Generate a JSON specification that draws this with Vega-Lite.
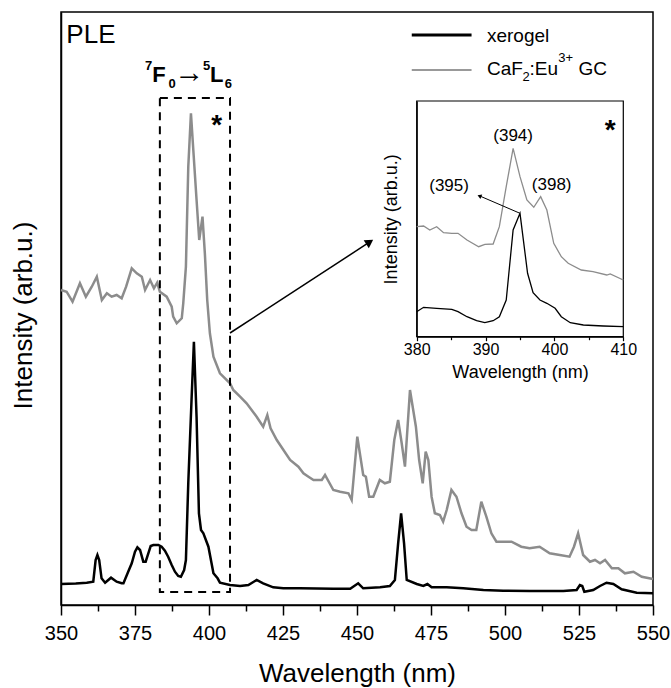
{
  "$schema": "https://vega.github.io/schema/vega-lite/v6.json",
  "width": 592,
  "height": 593,
  "autosize": {"type": "none"},
  "padding": {"left": 61, "top": 12, "right": 18, "bottom": 83},
  "config": {
    "font": "Liberation Sans",
    "view": {"stroke": "#000000", "strokeWidth": 1.5},
    "axis": {"grid": false, "domainColor": "#000000", "tickColor": "#000000", "labelColor": "#000000", "titleColor": "#000000", "titleFontWeight": "normal", "domainWidth": 1.5, "tickWidth": 1.5, "labelFont": "Liberation Sans", "titleFont": "Liberation Sans"}
  },
  "datasets": {
    "main": [
      {"sample": "xerogel", "wl": 350, "intensity": 21},
      {"sample": "xerogel", "wl": 355, "intensity": 21.5},
      {"sample": "xerogel", "wl": 358.7, "intensity": 22.3},
      {"sample": "xerogel", "wl": 360.9, "intensity": 23.3},
      {"sample": "xerogel", "wl": 361.7, "intensity": 45},
      {"sample": "xerogel", "wl": 362.3, "intensity": 50},
      {"sample": "xerogel", "wl": 362.9, "intensity": 45},
      {"sample": "xerogel", "wl": 363.7, "intensity": 26.7},
      {"sample": "xerogel", "wl": 364.9, "intensity": 22.3},
      {"sample": "xerogel", "wl": 366.9, "intensity": 27.3},
      {"sample": "xerogel", "wl": 368.8, "intensity": 23.3},
      {"sample": "xerogel", "wl": 370.5, "intensity": 21.7},
      {"sample": "xerogel", "wl": 371.1, "intensity": 21.7},
      {"sample": "xerogel", "wl": 372.7, "intensity": 33.3},
      {"sample": "xerogel", "wl": 373.9, "intensity": 41.7},
      {"sample": "xerogel", "wl": 375.0, "intensity": 53.3},
      {"sample": "xerogel", "wl": 375.8, "intensity": 57.7},
      {"sample": "xerogel", "wl": 376.7, "intensity": 55},
      {"sample": "xerogel", "wl": 377.8, "intensity": 43.3},
      {"sample": "xerogel", "wl": 378.6, "intensity": 43.3},
      {"sample": "xerogel", "wl": 379.5, "intensity": 51.7},
      {"sample": "xerogel", "wl": 380.3, "intensity": 59},
      {"sample": "xerogel", "wl": 381.2, "intensity": 60},
      {"sample": "xerogel", "wl": 382.9, "intensity": 60},
      {"sample": "xerogel", "wl": 384.0, "intensity": 58.3},
      {"sample": "xerogel", "wl": 385.1, "intensity": 54.3},
      {"sample": "xerogel", "wl": 386.2, "intensity": 48.3},
      {"sample": "xerogel", "wl": 387.4, "intensity": 40},
      {"sample": "xerogel", "wl": 388.5, "intensity": 33.3},
      {"sample": "xerogel", "wl": 389.6, "intensity": 29},
      {"sample": "xerogel", "wl": 390.5, "intensity": 28.3},
      {"sample": "xerogel", "wl": 391.6, "intensity": 35},
      {"sample": "xerogel", "wl": 392.2, "intensity": 45},
      {"sample": "xerogel", "wl": 393.0, "intensity": 122},
      {"sample": "xerogel", "wl": 394.1, "intensity": 205},
      {"sample": "xerogel", "wl": 394.9, "intensity": 263.3},
      {"sample": "xerogel", "wl": 395.8, "intensity": 188},
      {"sample": "xerogel", "wl": 396.6, "intensity": 91.7},
      {"sample": "xerogel", "wl": 397.3, "intensity": 75},
      {"sample": "xerogel", "wl": 398.1, "intensity": 71.7},
      {"sample": "xerogel", "wl": 399.8, "intensity": 58.3},
      {"sample": "xerogel", "wl": 401.5, "intensity": 31.7},
      {"sample": "xerogel", "wl": 402.9, "intensity": 26.7},
      {"sample": "xerogel", "wl": 403.7, "intensity": 22.3},
      {"sample": "xerogel", "wl": 407.1, "intensity": 20},
      {"sample": "xerogel", "wl": 410.5, "intensity": 19},
      {"sample": "xerogel", "wl": 413.3, "intensity": 20},
      {"sample": "xerogel", "wl": 416.1, "intensity": 25},
      {"sample": "xerogel", "wl": 418.3, "intensity": 21.7},
      {"sample": "xerogel", "wl": 421.7, "intensity": 17.7},
      {"sample": "xerogel", "wl": 425.1, "intensity": 16.7},
      {"sample": "xerogel", "wl": 430.7, "intensity": 16.7},
      {"sample": "xerogel", "wl": 442, "intensity": 16.3},
      {"sample": "xerogel", "wl": 447.7, "intensity": 16.3},
      {"sample": "xerogel", "wl": 450.4, "intensity": 21.7},
      {"sample": "xerogel", "wl": 452.1, "intensity": 16.7},
      {"sample": "xerogel", "wl": 457.8, "intensity": 17.7},
      {"sample": "xerogel", "wl": 461.1, "intensity": 19},
      {"sample": "xerogel", "wl": 462.8, "intensity": 25},
      {"sample": "xerogel", "wl": 463.9, "intensity": 61.7},
      {"sample": "xerogel", "wl": 464.9, "intensity": 91.7},
      {"sample": "xerogel", "wl": 465.9, "intensity": 61.7},
      {"sample": "xerogel", "wl": 466.8, "intensity": 25},
      {"sample": "xerogel", "wl": 470.2, "intensity": 21},
      {"sample": "xerogel", "wl": 472.4, "intensity": 19},
      {"sample": "xerogel", "wl": 473.8, "intensity": 21},
      {"sample": "xerogel", "wl": 475.2, "intensity": 17.7},
      {"sample": "xerogel", "wl": 480.3, "intensity": 17.7},
      {"sample": "xerogel", "wl": 485.9, "intensity": 16.7},
      {"sample": "xerogel", "wl": 492.7, "intensity": 15},
      {"sample": "xerogel", "wl": 499.4, "intensity": 14.3},
      {"sample": "xerogel", "wl": 508.4, "intensity": 14},
      {"sample": "xerogel", "wl": 519.7, "intensity": 14},
      {"sample": "xerogel", "wl": 524.2, "intensity": 15},
      {"sample": "xerogel", "wl": 525.3, "intensity": 20},
      {"sample": "xerogel", "wl": 526.1, "intensity": 19},
      {"sample": "xerogel", "wl": 526.8, "intensity": 13.3},
      {"sample": "xerogel", "wl": 529.8, "intensity": 15},
      {"sample": "xerogel", "wl": 532.1, "intensity": 19},
      {"sample": "xerogel", "wl": 534.3, "intensity": 22.3},
      {"sample": "xerogel", "wl": 536.6, "intensity": 21},
      {"sample": "xerogel", "wl": 539.4, "intensity": 15.7},
      {"sample": "xerogel", "wl": 544.5, "intensity": 12.3},
      {"sample": "xerogel", "wl": 550, "intensity": 11.7},
      {"sample": "CaF2:Eu3+ GC", "wl": 350, "intensity": 315},
      {"sample": "CaF2:Eu3+ GC", "wl": 351.9, "intensity": 313.3},
      {"sample": "CaF2:Eu3+ GC", "wl": 353.9, "intensity": 303.3},
      {"sample": "CaF2:Eu3+ GC", "wl": 356.4, "intensity": 321.7},
      {"sample": "CaF2:Eu3+ GC", "wl": 358.4, "intensity": 308.3},
      {"sample": "CaF2:Eu3+ GC", "wl": 360.4, "intensity": 318.3},
      {"sample": "CaF2:Eu3+ GC", "wl": 362.1, "intensity": 328.3},
      {"sample": "CaF2:Eu3+ GC", "wl": 363.8, "intensity": 305},
      {"sample": "CaF2:Eu3+ GC", "wl": 365.5, "intensity": 311.7},
      {"sample": "CaF2:Eu3+ GC", "wl": 367.1, "intensity": 308.3},
      {"sample": "CaF2:Eu3+ GC", "wl": 368.8, "intensity": 310},
      {"sample": "CaF2:Eu3+ GC", "wl": 370.5, "intensity": 306.7},
      {"sample": "CaF2:Eu3+ GC", "wl": 372, "intensity": 318.3},
      {"sample": "CaF2:Eu3+ GC", "wl": 373.9, "intensity": 336.7},
      {"sample": "CaF2:Eu3+ GC", "wl": 375.6, "intensity": 331.7},
      {"sample": "CaF2:Eu3+ GC", "wl": 377.3, "intensity": 328.3},
      {"sample": "CaF2:Eu3+ GC", "wl": 378.4, "intensity": 315},
      {"sample": "CaF2:Eu3+ GC", "wl": 380.1, "intensity": 325},
      {"sample": "CaF2:Eu3+ GC", "wl": 381.4, "intensity": 316.7},
      {"sample": "CaF2:Eu3+ GC", "wl": 382.5, "intensity": 322.3},
      {"sample": "CaF2:Eu3+ GC", "wl": 383.4, "intensity": 313.3},
      {"sample": "CaF2:Eu3+ GC", "wl": 385.7, "intensity": 308.3},
      {"sample": "CaF2:Eu3+ GC", "wl": 387.4, "intensity": 298.3},
      {"sample": "CaF2:Eu3+ GC", "wl": 387.9, "intensity": 288.3},
      {"sample": "CaF2:Eu3+ GC", "wl": 389.1, "intensity": 281.7},
      {"sample": "CaF2:Eu3+ GC", "wl": 390.8, "intensity": 286.7},
      {"sample": "CaF2:Eu3+ GC", "wl": 391.3, "intensity": 301.7},
      {"sample": "CaF2:Eu3+ GC", "wl": 392.2, "intensity": 338.3},
      {"sample": "CaF2:Eu3+ GC", "wl": 393, "intensity": 438.3},
      {"sample": "CaF2:Eu3+ GC", "wl": 393.9, "intensity": 491.7},
      {"sample": "CaF2:Eu3+ GC", "wl": 394.7, "intensity": 455},
      {"sample": "CaF2:Eu3+ GC", "wl": 395.8, "intensity": 405},
      {"sample": "CaF2:Eu3+ GC", "wl": 396.7, "intensity": 365},
      {"sample": "CaF2:Eu3+ GC", "wl": 397.8, "intensity": 388.3},
      {"sample": "CaF2:Eu3+ GC", "wl": 398.6, "intensity": 351.7},
      {"sample": "CaF2:Eu3+ GC", "wl": 399.4, "intensity": 305},
      {"sample": "CaF2:Eu3+ GC", "wl": 400.3, "intensity": 271.7},
      {"sample": "CaF2:Eu3+ GC", "wl": 401.5, "intensity": 248.3},
      {"sample": "CaF2:Eu3+ GC", "wl": 403.7, "intensity": 231.7},
      {"sample": "CaF2:Eu3+ GC", "wl": 407.1, "intensity": 221.7},
      {"sample": "CaF2:Eu3+ GC", "wl": 408.2, "intensity": 215},
      {"sample": "CaF2:Eu3+ GC", "wl": 410.5, "intensity": 208.3},
      {"sample": "CaF2:Eu3+ GC", "wl": 412.7, "intensity": 201.7},
      {"sample": "CaF2:Eu3+ GC", "wl": 416.1, "intensity": 188.3},
      {"sample": "CaF2:Eu3+ GC", "wl": 418.3, "intensity": 178.3},
      {"sample": "CaF2:Eu3+ GC", "wl": 419.7, "intensity": 190},
      {"sample": "CaF2:Eu3+ GC", "wl": 420.8, "intensity": 176.7},
      {"sample": "CaF2:Eu3+ GC", "wl": 422.9, "intensity": 165},
      {"sample": "CaF2:Eu3+ GC", "wl": 427.4, "intensity": 145},
      {"sample": "CaF2:Eu3+ GC", "wl": 430.2, "intensity": 138.3},
      {"sample": "CaF2:Eu3+ GC", "wl": 431.9, "intensity": 131.7},
      {"sample": "CaF2:Eu3+ GC", "wl": 433.6, "intensity": 128.3},
      {"sample": "CaF2:Eu3+ GC", "wl": 435.3, "intensity": 125},
      {"sample": "CaF2:Eu3+ GC", "wl": 438.1, "intensity": 125},
      {"sample": "CaF2:Eu3+ GC", "wl": 439.2, "intensity": 130},
      {"sample": "CaF2:Eu3+ GC", "wl": 442, "intensity": 115},
      {"sample": "CaF2:Eu3+ GC", "wl": 444.3, "intensity": 113.3},
      {"sample": "CaF2:Eu3+ GC", "wl": 447.1, "intensity": 111.7},
      {"sample": "CaF2:Eu3+ GC", "wl": 448.2, "intensity": 105},
      {"sample": "CaF2:Eu3+ GC", "wl": 450.1, "intensity": 168.3},
      {"sample": "CaF2:Eu3+ GC", "wl": 452.1, "intensity": 130},
      {"sample": "CaF2:Eu3+ GC", "wl": 453, "intensity": 128.3},
      {"sample": "CaF2:Eu3+ GC", "wl": 454.1, "intensity": 108.3},
      {"sample": "CaF2:Eu3+ GC", "wl": 455.5, "intensity": 108.3},
      {"sample": "CaF2:Eu3+ GC", "wl": 457.7, "intensity": 125},
      {"sample": "CaF2:Eu3+ GC", "wl": 459.4, "intensity": 121.7},
      {"sample": "CaF2:Eu3+ GC", "wl": 461.1, "intensity": 123.3},
      {"sample": "CaF2:Eu3+ GC", "wl": 462.6, "intensity": 165},
      {"sample": "CaF2:Eu3+ GC", "wl": 463.9, "intensity": 185},
      {"sample": "CaF2:Eu3+ GC", "wl": 465.1, "intensity": 161.7},
      {"sample": "CaF2:Eu3+ GC", "wl": 466.2, "intensity": 138.3},
      {"sample": "CaF2:Eu3+ GC", "wl": 467.9, "intensity": 215},
      {"sample": "CaF2:Eu3+ GC", "wl": 469.9, "intensity": 178.3},
      {"sample": "CaF2:Eu3+ GC", "wl": 471, "intensity": 145},
      {"sample": "CaF2:Eu3+ GC", "wl": 472.2, "intensity": 121.7},
      {"sample": "CaF2:Eu3+ GC", "wl": 473.2, "intensity": 153.3},
      {"sample": "CaF2:Eu3+ GC", "wl": 474.1, "intensity": 145},
      {"sample": "CaF2:Eu3+ GC", "wl": 475.2, "intensity": 108.3},
      {"sample": "CaF2:Eu3+ GC", "wl": 476.3, "intensity": 91.7},
      {"sample": "CaF2:Eu3+ GC", "wl": 478, "intensity": 90},
      {"sample": "CaF2:Eu3+ GC", "wl": 479.1, "intensity": 83.3},
      {"sample": "CaF2:Eu3+ GC", "wl": 480.3, "intensity": 95},
      {"sample": "CaF2:Eu3+ GC", "wl": 481.9, "intensity": 115},
      {"sample": "CaF2:Eu3+ GC", "wl": 483.6, "intensity": 108.3},
      {"sample": "CaF2:Eu3+ GC", "wl": 485.3, "intensity": 91.7},
      {"sample": "CaF2:Eu3+ GC", "wl": 487, "intensity": 78.3},
      {"sample": "CaF2:Eu3+ GC", "wl": 488.7, "intensity": 75},
      {"sample": "CaF2:Eu3+ GC", "wl": 490.3, "intensity": 75},
      {"sample": "CaF2:Eu3+ GC", "wl": 492, "intensity": 103.3},
      {"sample": "CaF2:Eu3+ GC", "wl": 493.7, "intensity": 88.3},
      {"sample": "CaF2:Eu3+ GC", "wl": 495.4, "intensity": 71.7},
      {"sample": "CaF2:Eu3+ GC", "wl": 497.1, "intensity": 63.3},
      {"sample": "CaF2:Eu3+ GC", "wl": 499.3, "intensity": 63.3},
      {"sample": "CaF2:Eu3+ GC", "wl": 502.2, "intensity": 63.3},
      {"sample": "CaF2:Eu3+ GC", "wl": 505.5, "intensity": 58.3},
      {"sample": "CaF2:Eu3+ GC", "wl": 508.3, "intensity": 56.7},
      {"sample": "CaF2:Eu3+ GC", "wl": 511.7, "intensity": 58.3},
      {"sample": "CaF2:Eu3+ GC", "wl": 515.1, "intensity": 51.7},
      {"sample": "CaF2:Eu3+ GC", "wl": 518.5, "intensity": 50},
      {"sample": "CaF2:Eu3+ GC", "wl": 521.8, "intensity": 48.3},
      {"sample": "CaF2:Eu3+ GC", "wl": 523.3, "intensity": 58.3},
      {"sample": "CaF2:Eu3+ GC", "wl": 524.7, "intensity": 71.7},
      {"sample": "CaF2:Eu3+ GC", "wl": 526.4, "intensity": 50},
      {"sample": "CaF2:Eu3+ GC", "wl": 528.7, "intensity": 43.3},
      {"sample": "CaF2:Eu3+ GC", "wl": 530.4, "intensity": 45},
      {"sample": "CaF2:Eu3+ GC", "wl": 532.1, "intensity": 41.7},
      {"sample": "CaF2:Eu3+ GC", "wl": 533.8, "intensity": 45},
      {"sample": "CaF2:Eu3+ GC", "wl": 536.1, "intensity": 36.7},
      {"sample": "CaF2:Eu3+ GC", "wl": 538.3, "intensity": 36.7},
      {"sample": "CaF2:Eu3+ GC", "wl": 540.5, "intensity": 31.7},
      {"sample": "CaF2:Eu3+ GC", "wl": 543.4, "intensity": 33.3},
      {"sample": "CaF2:Eu3+ GC", "wl": 546.2, "intensity": 28.3},
      {"sample": "CaF2:Eu3+ GC", "wl": 550, "intensity": 26}
    ],
    "inset": [
      {"sample": "CaF2:Eu3+ GC", "wl": 380, "intensity": 110},
      {"sample": "CaF2:Eu3+ GC", "wl": 381, "intensity": 110.7},
      {"sample": "CaF2:Eu3+ GC", "wl": 381.9, "intensity": 106.7},
      {"sample": "CaF2:Eu3+ GC", "wl": 382.9, "intensity": 110},
      {"sample": "CaF2:Eu3+ GC", "wl": 383.9, "intensity": 104},
      {"sample": "CaF2:Eu3+ GC", "wl": 385.1, "intensity": 103.4},
      {"sample": "CaF2:Eu3+ GC", "wl": 386, "intensity": 103.4},
      {"sample": "CaF2:Eu3+ GC", "wl": 387.3, "intensity": 96.7},
      {"sample": "CaF2:Eu3+ GC", "wl": 389, "intensity": 90},
      {"sample": "CaF2:Eu3+ GC", "wl": 389.9, "intensity": 92.4},
      {"sample": "CaF2:Eu3+ GC", "wl": 391.1, "intensity": 92.7},
      {"sample": "CaF2:Eu3+ GC", "wl": 392, "intensity": 110},
      {"sample": "CaF2:Eu3+ GC", "wl": 393, "intensity": 150},
      {"sample": "CaF2:Eu3+ GC", "wl": 394, "intensity": 188.4},
      {"sample": "CaF2:Eu3+ GC", "wl": 395, "intensity": 160},
      {"sample": "CaF2:Eu3+ GC", "wl": 396, "intensity": 136.7},
      {"sample": "CaF2:Eu3+ GC", "wl": 397, "intensity": 129.4},
      {"sample": "CaF2:Eu3+ GC", "wl": 398, "intensity": 140},
      {"sample": "CaF2:Eu3+ GC", "wl": 398.9, "intensity": 126.7},
      {"sample": "CaF2:Eu3+ GC", "wl": 399.9, "intensity": 93.4},
      {"sample": "CaF2:Eu3+ GC", "wl": 401, "intensity": 80},
      {"sample": "CaF2:Eu3+ GC", "wl": 402, "intensity": 73.4},
      {"sample": "CaF2:Eu3+ GC", "wl": 403.9, "intensity": 66.7},
      {"sample": "CaF2:Eu3+ GC", "wl": 405.6, "intensity": 65},
      {"sample": "CaF2:Eu3+ GC", "wl": 407.6, "intensity": 61.7},
      {"sample": "CaF2:Eu3+ GC", "wl": 408.1, "intensity": 62.7},
      {"sample": "CaF2:Eu3+ GC", "wl": 410, "intensity": 56.7},
      {"sample": "xerogel", "wl": 380, "intensity": 25},
      {"sample": "xerogel", "wl": 381, "intensity": 29.4},
      {"sample": "xerogel", "wl": 382.9, "intensity": 28.4},
      {"sample": "xerogel", "wl": 385.1, "intensity": 27.4},
      {"sample": "xerogel", "wl": 386, "intensity": 25},
      {"sample": "xerogel", "wl": 387.3, "intensity": 20},
      {"sample": "xerogel", "wl": 388.7, "intensity": 16},
      {"sample": "xerogel", "wl": 389.9, "intensity": 14},
      {"sample": "xerogel", "wl": 391.1, "intensity": 16},
      {"sample": "xerogel", "wl": 392, "intensity": 20},
      {"sample": "xerogel", "wl": 393, "intensity": 36.7},
      {"sample": "xerogel", "wl": 394, "intensity": 106.7},
      {"sample": "xerogel", "wl": 395, "intensity": 123.4},
      {"sample": "xerogel", "wl": 396.1, "intensity": 63.4},
      {"sample": "xerogel", "wl": 396.9, "intensity": 44},
      {"sample": "xerogel", "wl": 397.9, "intensity": 36.7},
      {"sample": "xerogel", "wl": 398.9, "intensity": 33.4},
      {"sample": "xerogel", "wl": 400.1, "intensity": 28.4},
      {"sample": "xerogel", "wl": 401, "intensity": 20},
      {"sample": "xerogel", "wl": 402.3, "intensity": 14},
      {"sample": "xerogel", "wl": 404.2, "intensity": 11.7},
      {"sample": "xerogel", "wl": 407.1, "intensity": 10.7},
      {"sample": "xerogel", "wl": 410, "intensity": 10}
    ]
  },
  "layer": [
    {
      "encoding": {
        "x": {"field": "wl", "type": "quantitative",
          "scale": {"domain": [350, 550], "nice": false, "zero": false},
          "axis": {"title": "Wavelength (nm)", "values": [350, 362.5, 375, 387.5, 400, 412.5, 425, 437.5, 450, 462.5, 475, 487.5, 500, 512.5, 525, 537.5, 550],
            "labelExpr": "datum.value % 25 === 0 ? datum.label : ''",
            "tickSize": {"condition": {"test": "datum.value % 25 === 0", "value": 10}, "value": 6},
            "labelFontSize": 20, "labelPadding": 8, "titleFontSize": 26, "titlePadding": 17,
            "labelFlush": false, "labelOverlap": false}},
        "y": {"field": "intensity", "type": "quantitative",
          "scale": {"domain": [0, 593], "nice": false, "zero": false},
          "axis": {"title": "Intensity (arb.u.)", "ticks": false, "labels": false, "titleFontSize": 26, "titlePadding": 25, "titleY": 303}}
      },
      "layer": [
        {
          "data": {"name": "main"},
          "mark": {"type": "line", "strokeWidth": 2.5, "interpolate": "linear"},
          "encoding": {
            "color": {"field": "sample", "type": "nominal", "scale": {"domain": ["xerogel", "CaF2:Eu3+ GC"], "range": ["#000000", "#8c8c8c"]}, "legend": null},
            "order": {"field": "wl", "type": "quantitative"}
          }
        },
        {
          "data": {"values": [{"wl": 383.4, "intensity": 13}]},
          "mark": {"type": "rect", "filled": false, "stroke": "#000000", "strokeWidth": 2, "strokeDash": [8, 6]},
          "encoding": {
            "x2": {"datum": 407.1},
            "y2": {"datum": 507}
          }
        },
        {
          "data": {"values": [{"wl": 407.1, "intensity": 272}]},
          "mark": {"type": "rule", "stroke": "#000000", "strokeWidth": 1.5},
          "encoding": {
            "x2": {"datum": 454.2},
            "y2": {"datum": 362.8}
          }
        },
        {
          "data": {"values": [{"wl": 453.9, "intensity": 362.3}]},
          "mark": {"type": "point", "shape": "triangle", "filled": true, "color": "#000000", "opacity": 1, "size": 90, "angle": 57}
        },
        {
          "data": {"values": [{"wl": 468.5, "intensity": 570}]},
          "mark": {"type": "rule", "stroke": "#000000", "strokeWidth": 3},
          "encoding": {
            "x2": {"datum": 488.7},
            "y2": {"datum": 570}
          }
        },
        {
          "data": {"values": [{"wl": 468.5, "intensity": 535}]},
          "mark": {"type": "rule", "stroke": "#999999", "strokeWidth": 2},
          "encoding": {
            "x2": {"datum": 488.7},
            "y2": {"datum": 535}
          }
        },
        {
          "data": {"values": [
            {"wl": 493.9, "intensity": 563, "text": "xerogel"},
            {"wl": 493.9, "intensity": 530, "text": "CaF"},
            {"wl": 508.3, "intensity": 530, "text": ":Eu"},
            {"wl": 524.8, "intensity": 530, "text": "GC"}
          ]},
          "mark": {"type": "text", "align": "left", "baseline": "alphabetic", "fontSize": 19, "color": "#000000"},
          "encoding": {"text": {"field": "text"}}
        },
        {
          "data": {"values": [
            {"wl": 505.9, "intensity": 524, "text": "2"},
            {"wl": 518.0, "intensity": 543, "text": "3+"}
          ]},
          "mark": {"type": "text", "align": "left", "baseline": "alphabetic", "fontSize": 13, "color": "#000000"},
          "encoding": {"text": {"field": "text"}}
        },
        {
          "data": {"values": [{"wl": 351.8, "intensity": 561.7, "text": "PLE"}]},
          "mark": {"type": "text", "align": "left", "baseline": "alphabetic", "fontSize": 26, "color": "#000000"},
          "encoding": {"text": {"field": "text"}}
        },
        {
          "data": {"values": [
            {"wl": 380.8, "intensity": 523, "text": "F"},
            {"wl": 400.3, "intensity": 523, "text": "L"}
          ]},
          "mark": {"type": "text", "align": "left", "baseline": "alphabetic", "fontSize": 22, "fontWeight": "bold", "color": "#000000"},
          "encoding": {"text": {"field": "text"}}
        },
        {
          "data": {"values": [{"wl": 393.3, "intensity": 532, "text": "→"}]},
          "mark": {"type": "text", "align": "center", "baseline": "middle", "fontSize": 30, "color": "#000000"},
          "encoding": {"text": {"field": "text"}}
        },
        {
          "data": {"values": [
            {"wl": 378.4, "intensity": 535, "text": "7"},
            {"wl": 386.3, "intensity": 517, "text": "0"},
            {"wl": 398.0, "intensity": 535, "text": "5"},
            {"wl": 405.3, "intensity": 517, "text": "6"}
          ]},
          "mark": {"type": "text", "align": "left", "baseline": "alphabetic", "fontSize": 13, "fontWeight": "bold", "color": "#000000"},
          "encoding": {"text": {"field": "text"}}
        },
        {
          "data": {"values": [{"wl": 402.6, "intensity": 471.5, "text": "*"}]},
          "mark": {"type": "text", "align": "center", "baseline": "alphabetic", "fontSize": 28, "fontWeight": "bold", "color": "#000000"},
          "encoding": {"text": {"field": "text"}}
        }
      ]
    },
    {
      "encoding": {
        "x": {"field": "wl", "type": "quantitative",
          "scale": {"domain": [380, 410], "range": [355.7, 562.3], "nice": false, "zero": false},
          "axis": {"orient": "bottom", "offset": -268.3, "title": "Wavelength (nm)", "values": [380, 385, 390, 395, 400, 405, 410],
            "labelExpr": "datum.value % 10 === 0 ? datum.label : ''",
            "tickSize": {"condition": {"test": "datum.value % 10 === 0", "value": 4}, "value": 3},
            "labelFontSize": 16, "labelPadding": 1, "titleFontSize": 18, "titlePadding": 6,
            "labelFlush": false, "labelOverlap": false, "domainWidth": 1.2, "tickWidth": 1.2}},
        "y": {"field": "intensity", "type": "quantitative",
          "scale": {"domain": [0, 235.7], "range": [324.7, 89], "nice": false, "zero": false},
          "axis": {"orient": "left", "offset": -355.7, "title": "Intensity (arb.u.)", "ticks": false, "labels": false, "titleFontSize": 18, "titlePadding": 16, "domainWidth": 1.2}}
      },
      "layer": [
        {
          "data": {"values": [{"wl": 380, "intensity": 0}]},
          "mark": {"type": "rect", "filled": false, "stroke": "#000000", "strokeWidth": 1.2},
          "encoding": {
            "x2": {"datum": 410},
            "y2": {"datum": 235.7}
          }
        },
        {
          "data": {"name": "inset"},
          "mark": {"type": "line", "strokeWidth": 1.3},
          "encoding": {
            "color": {"field": "sample", "type": "nominal", "scale": {"domain": ["xerogel", "CaF2:Eu3+ GC"], "range": ["#000000", "#8c8c8c"]}, "legend": null},
            "order": {"field": "wl", "type": "quantitative"}
          }
        },
        {
          "data": {"values": [{"wl": 395, "intensity": 123.4}]},
          "mark": {"type": "rule", "stroke": "#000000", "strokeWidth": 1},
          "encoding": {
            "x2": {"datum": 389.3},
            "y2": {"datum": 140.3}
          }
        },
        {
          "data": {"values": [{"wl": 389.2, "intensity": 140.5}]},
          "mark": {"type": "point", "shape": "triangle", "filled": true, "color": "#000000", "opacity": 1, "size": 22, "angle": 293}
        },
        {
          "data": {"values": [
            {"wl": 394, "intensity": 200.7, "text": "(394)"},
            {"wl": 399.6, "intensity": 151.7, "text": "(398)"},
            {"wl": 384.7, "intensity": 150.7, "text": "(395)"}
          ]},
          "mark": {"type": "text", "align": "center", "baseline": "middle", "fontSize": 17, "color": "#000000"},
          "encoding": {"text": {"field": "text"}}
        },
        {
          "data": {"values": [{"wl": 408.1, "intensity": 198.2, "text": "*"}]},
          "mark": {"type": "text", "align": "center", "baseline": "alphabetic", "fontSize": 28, "fontWeight": "bold", "color": "#000000"},
          "encoding": {"text": {"field": "text"}}
        }
      ]
    }
  ],
  "resolve": {"scale": {"x": "independent", "y": "independent"}, "axis": {"x": "independent", "y": "independent"}}
}
